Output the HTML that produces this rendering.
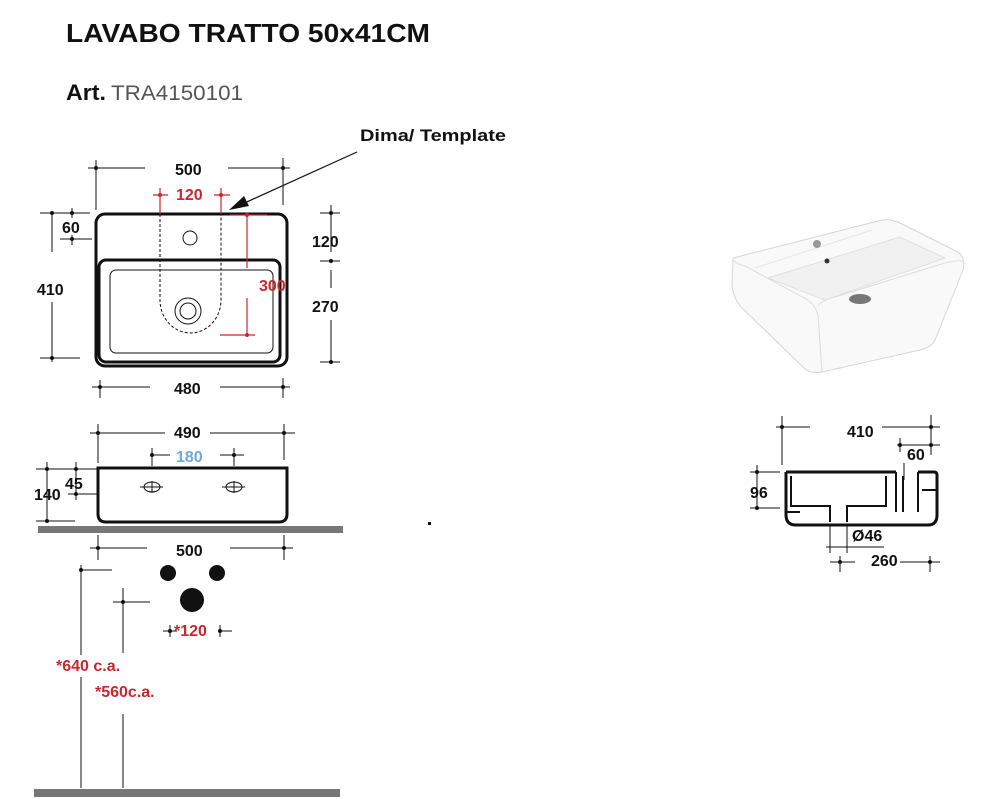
<!DOCTYPE html><html><head><meta charset="utf-8"><style>body{margin:0;background:#fff}svg{display:block}text{font-family:"Liberation Sans",sans-serif;font-weight:bold}</style></head><body>
<svg width="999" height="799" viewBox="0 0 999 799" xmlns="http://www.w3.org/2000/svg">
<text x="66" y="42" font-size="26" fill="#111" textLength="364" lengthAdjust="spacingAndGlyphs">LAVABO TRATTO 50x41CM</text>
<text x="66" y="100" font-size="22" fill="#111" textLength="40" lengthAdjust="spacingAndGlyphs">Art.</text>
<text x="111" y="100" font-size="21" fill="#555" style="font-weight:normal" textLength="132" lengthAdjust="spacingAndGlyphs">TRA4150101</text>
<text x="360" y="141" font-size="17" fill="#111" textLength="146" lengthAdjust="spacingAndGlyphs">Dima/ Template</text>
<g stroke="#111" stroke-width="1.2" fill="none">
<path d="M357 152 L240 205"/>
</g>
<polygon points="229,210 244,196 249,206" fill="#111"/>
<!-- top view -->
<g fill="none" stroke="#111">
<rect x="96" y="214" width="191" height="152" rx="9" stroke-width="3"/>
<rect x="99" y="260" width="181" height="102" rx="7" stroke-width="3"/>
<rect x="110" y="270" width="163" height="83" rx="6" stroke-width="1"/>
<circle cx="190" cy="238" r="7" stroke-width="1"/>
<circle cx="188" cy="311" r="13" stroke-width="1"/>
<circle cx="188" cy="311" r="8" stroke-width="1"/>
<path d="M160 214 V300 A30.5 33 0 0 0 221 300 V214" stroke-dasharray="3,2" stroke-width="1"/>
<g stroke-width="1">
<path d="M96 160 V210 M88 168 H145 M228 168 H290 M283 158 V205"/>
<path d="M40 213 H90 M52 213 V252 M52 302 V362 M40 358 H80 M72 208 V218 M60 239 H92 M72 235 V245"/>
<path d="M331 205 V252 M320 213 H340 M320 261 H340 M331 270 V288 M331 320 V362 M320 362 H340"/>
<path d="M100 380 V398 M92 387 H150 M220 387 H290 M283 378 V398"/>
</g>
</g>
<g fill="#111"><circle cx="96" cy="168" r="2"/><circle cx="283" cy="168" r="2"/><circle cx="52" cy="213" r="2"/><circle cx="72" cy="213" r="2"/><circle cx="72" cy="239" r="2"/><circle cx="52" cy="358" r="2"/><circle cx="331" cy="213" r="2"/><circle cx="331" cy="261" r="2"/><circle cx="331" cy="362" r="2"/><circle cx="100" cy="387" r="2"/><circle cx="283" cy="387" r="2"/></g>
<g stroke="#c8282d" stroke-width="1.2" fill="none"><path d="M153 195 H168 M160 188 V214 M214 195 H230 M221 188 V214 M247 215 V268 M247 298 V335 M230 215 H267 M220 335 H255"/></g>
<g fill="#c8282d"><circle cx="160" cy="195" r="2"/><circle cx="221" cy="195" r="2"/><circle cx="247" cy="215" r="2"/><circle cx="247" cy="335" r="2"/></g>
<g font-size="16" fill="#111">
<text x="175" y="175">500</text><text x="62" y="233">60</text><text x="37" y="295">410</text>
<text x="312" y="247">120</text><text x="312" y="312">270</text><text x="174" y="394">480</text>
<text x="174" y="438">490</text><text x="65" y="489">45</text><text x="34" y="500">140</text>
<text x="176" y="556">500</text>
<text x="847" y="437">410</text><text x="907" y="460">60</text><text x="750" y="498">96</text><text x="852" y="541">Ø46</text><text x="871" y="566">260</text>
</g>
<g font-size="16" fill="#c8282d"><text x="176" y="200">120</text><text x="259" y="291">300</text><text x="174" y="636">*120</text><text x="56" y="671">*640 c.a.</text><text x="95" y="697">*560c.a.</text></g>
<text x="176" y="462" font-size="16" fill="#6fa8dc">180</text>
<!-- front view -->
<path d="M98 468 H287 V514 Q287 522 279 522 H106 Q98 522 98 514 Z" fill="none" stroke="#111" stroke-width="3"/>
<g stroke="#111" stroke-width="1" fill="none">
<ellipse cx="152" cy="487" rx="8" ry="5"/><ellipse cx="234" cy="487" rx="8" ry="5"/>
<path d="M140 487 H163 M152 481 V493 M222 487 H245 M234 481 V493"/>
<path d="M98 424 V463 M90 433 H165 M210 433 H295 M284 424 V460"/>
<path d="M150 455 H170 M152 448 V466 M220 455 H244 M234 448 V466"/>
<path d="M36 469 H98 M47 462 V522 M36 521 H75 M76 462 V500 M68 494 H98"/>
<path d="M98 535 V560 M90 548 H147 M230 548 H293 M284 535 V560"/>
<path d="M163 631 H177 M170 625 V637 M220 631 H232 M220 625 V637"/>
<path d="M81 565 V655 M81 677 V788 M81 570 H112 M123 588 V653 M123 714 V788 M113 602 H150"/>
</g>
<g fill="#111"><circle cx="98" cy="433" r="2"/><circle cx="284" cy="433" r="2"/><circle cx="152" cy="455" r="2"/><circle cx="234" cy="455" r="2"/><circle cx="47" cy="469" r="2"/><circle cx="76" cy="469" r="2"/><circle cx="76" cy="494" r="2"/><circle cx="47" cy="521" r="2"/><circle cx="98" cy="548" r="2"/><circle cx="284" cy="548" r="2"/><circle cx="81" cy="570" r="2"/><circle cx="123" cy="602" r="2"/><circle cx="170" cy="631" r="2"/><circle cx="220" cy="631" r="2"/>
<circle cx="168" cy="573" r="8"/><circle cx="217" cy="573" r="8"/><circle cx="192" cy="600" r="12"/><rect x="428" y="522" width="3" height="3"/></g>
<rect x="38" y="526" width="305" height="7" fill="#777"/>
<rect x="34" y="789" width="306" height="8" fill="#777"/>
<!-- photo -->
<path d="M733 258 L878 221 Q888 218 898 222 L958 252 Q966 258 963 270 L935 340 Q932 347 920 350 L822 372 Q810 374 804 368 L742 308 Q733 298 732 285 Z" fill="#f9f9f9" stroke="#d6d6d6"/>
<path d="M733 260 Q736 264 745 266 L808 300 Q815 305 818 315 L822 372" fill="none" stroke="#dcdcdc"/>
<path d="M818 306 Q822 300 835 297 L935 266 Q960 258 963 262" fill="none" stroke="#dcdcdc"/>
<path d="M768 278 L900 237 L945 258 L825 300 Z" fill="#f1f1f1" stroke="#e0e0e0"/>
<path d="M755 268 L872 230" fill="none" stroke="#e4e4e4"/>
<circle cx="817" cy="244" r="4" fill="#999"/><circle cx="827" cy="261" r="2.5" fill="#333"/>
<ellipse cx="860" cy="299" rx="11" ry="5" fill="#777"/>
<!-- side view -->
<g fill="none" stroke="#111">
<path d="M786 472 V515 Q786 525 796 525 H928 Q937 525 937 515 V475 Q937 472 934 472 H918 M786 472 H896" stroke-width="3"/>
<path d="M791 476 V506 H830 V522 M847 522 V506 H886 V476 M896 472 V512 M903 476 V512 M786 512 H800 M918 472 V512 M922 490 H937" stroke-width="2"/>
<g stroke-width="1">
<path d="M782 416 V465 M776 427 H810 M882 427 H940 M931 415 V455 M900 438 V452 M897 445 H940 M904 463 V480"/>
<path d="M750 472 H780 M757 465 V510 M750 508 H780"/>
<path d="M830 525 V553 M847 525 V553 M826 547 H884 M840 556 V572 M830 562 H855 M900 562 H940 M930 556 V572"/>
</g></g>
<g fill="#111"><circle cx="782" cy="427" r="2"/><circle cx="931" cy="427" r="2"/><circle cx="900" cy="445" r="2"/><circle cx="931" cy="445" r="2"/><circle cx="757" cy="472" r="2"/><circle cx="757" cy="508" r="2"/><circle cx="840" cy="562" r="2"/><circle cx="930" cy="562" r="2"/></g>
</svg></body></html>
